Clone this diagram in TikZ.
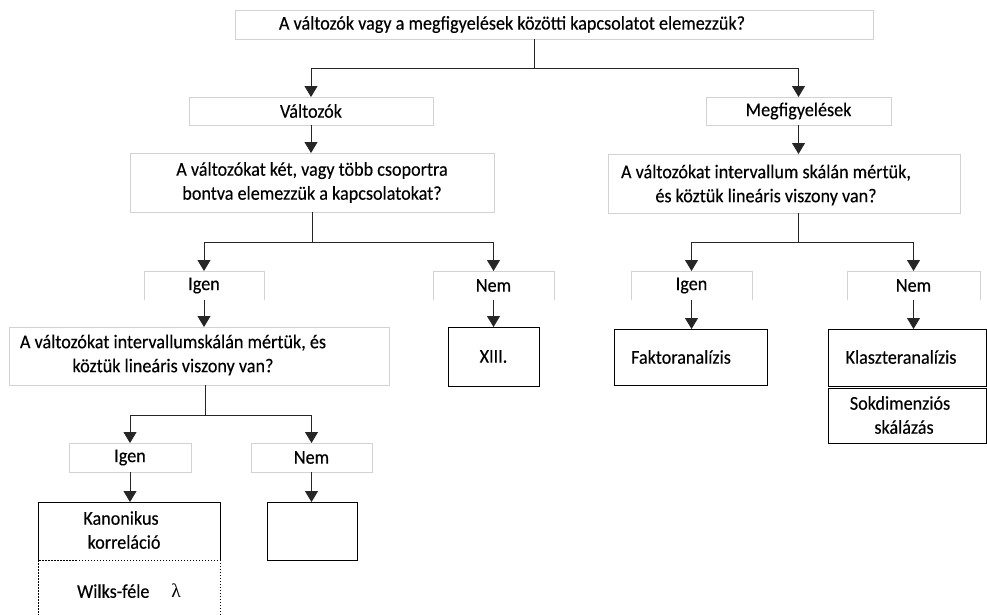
\documentclass[tikz,border=0pt]{standalone}
\usepackage{fontspec}
\setmainfont{Carlito}[FakeStretch=0.93,FakeBold=0.3]
\newfontfamily\greekfont{Liberation Serif}
\usetikzlibrary{arrows.meta}
\begin{document}
\begin{tikzpicture}[x=1pt,y=-1pt,
  base/.style={inner sep=0pt, outer sep=0pt, anchor=north west,
               font=\fontsize{19.5}{24}\selectfont, align=center},
  lbox/.style={base, draw=gray!35, line width=0.8pt},
  obox/.style={base},
  dbox/.style={base, draw=black, line width=0.9pt},
  txt/.style={inner sep=0pt, font=\fontsize{19.5}{24}\selectfont, align=center},
  frame/.style={draw=gray!35, line width=0.8pt},
  solidframe/.style={draw=black, line width=0.9pt},
  conn/.style={draw=black!85, line width=0.9pt},
  arr/.style={conn, -{Triangle[width=13pt,length=11pt]}},
]
\useasboundingbox (0,0) rectangle (987,614);

% ---- top question
\node[lbox, minimum width=638pt, minimum height=29pt] (T) at (235,10) {};
\node[txt] (tT) at (512,24.5) {A változók vagy a megfigyelések közötti kapcsolatot elemezzük?};

% ---- first level
\node[lbox, minimum width=244pt, minimum height=28pt] (V) at (189,97) {Változók};
\node[lbox, minimum width=185pt, minimum height=28pt] (M) at (706,97) {Megfigyelések};

\node[lbox, minimum width=364pt, minimum height=59pt] (Q1) at (130,153)
  {A változókat két, vagy több csoportra\\bontva elemezzük a kapcsolatokat?};
\node[lbox, minimum width=352pt, minimum height=59pt] (Q1R) at (608,154) {};
\node[txt] (tQ1R) at (766,185)
  {A változókat intervallum skálán mértük,\\és köztük lineáris viszony van?};

% ---- yes / no labels, open at the bottom
\node[obox, minimum width=120pt, minimum height=29pt] (IgL) at (144,271) {Igen};
\node[obox, minimum width=121pt, minimum height=29pt] (NemL) at (433,271) {Nem};
\node[obox, minimum width=121pt, minimum height=29pt] (IgR) at (631,271) {Igen};
\node[obox, minimum width=133pt, minimum height=29pt] (NemR) at (847,271) {Nem};
\foreach \n in {IgL,NemL,IgR,NemR}
  \draw[frame] (\n.south west) |- (\n.north east) -- (\n.south east);

% ---- second level results
\node[lbox, minimum width=380pt, minimum height=58pt] (Q2) at (9,327) {};
\node[txt] (tQ2) at (173,355)
  {A változókat intervallumskálán mértük, és\\köztük lineáris viszony van?};
\node[dbox, minimum width=91pt, minimum height=59pt] (XIII) at (448,327) {XIII.};

\node[dbox, minimum width=153pt, minimum height=56pt] (Fak) at (614,329) {};
\node[txt] (tFak) at (681,357) {Faktoranalízis};
\node[dbox, minimum width=158pt, minimum height=57pt] (Kla) at (828,329) {};
\node[txt] (tKla) at (901,357) {Klaszteranalízis};
\node[dbox, minimum width=158pt, minimum height=55pt] (Sok) at (828,388) {};
\node[txt] (tSok) at (900,415) {Sokdimenziós\\\hspace*{8pt}skálázás};

% ---- third level
\node[lbox, minimum width=122pt, minimum height=29pt] (IgB) at (69,443) {Igen};
\node[lbox, minimum width=121pt, minimum height=29pt] (NemB) at (251,443) {Nem};

\node[base, minimum width=182pt, minimum height=58pt] (Kan) at (38,502) {};
\draw[solidframe] (Kan.south west) |- (Kan.north east) -- (Kan.south east);
\node[txt] (tKan) at (121,530) {Kanonikus\\\hspace*{6pt}korreláció};
\node[base, draw=black, line width=0.6pt, dash pattern=on 1.5pt off 1.5pt,
      minimum width=182pt, minimum height=62pt] (W) at (38,560)
  {Wilks-féle\hspace{22pt}{\greekfont λ}};
\node[dbox, minimum width=90pt, minimum height=58pt] (Emp) at (267,502) {};

% ---- connectors
\coordinate (j0) at (534,68);
\draw[conn] (T.south -| j0) -- (j0);
\draw[arr] (j0) -| (V.north);
\draw[arr] (j0) -| (M.north);

\draw[arr] (V.south) -- (V.south |- Q1.north);
\coordinate (j1) at (312,242);
\draw[conn] (j1 |- Q1.south) -- (j1);
\draw[arr] (j1) -| (IgL.north);
\draw[arr] (j1) -| (NemL.north);
\draw[arr] (IgL.south) -- (IgL.south |- Q2.north);
\draw[arr] (NemL.south) -- (NemL.south |- XIII.north);

\coordinate (j2) at (205,415);
\draw[conn] (j2 |- Q2.south) -- (j2);
\draw[arr] (j2) -| (IgB.north);
\draw[arr] (j2) -| (NemB.north);
\draw[arr] (IgB.south) -- (IgB.south |- Kan.north);
\draw[arr] (NemB.south) -- (NemB.south |- Emp.north);

\draw[arr] (M.south) -- (M.south |- Q1R.north);
\coordinate (j3) at (798,242);
\draw[conn] (j3 |- Q1R.south) -- (j3);
\draw[arr] (j3) -| (IgR.north);
\draw[arr] (j3) -| (NemR.north);
\draw[arr] (IgR.south) -- (IgR.south |- Fak.north);
\draw[arr] (NemR.south) -- (NemR.south |- Kla.north);
\end{tikzpicture}
\end{document}
